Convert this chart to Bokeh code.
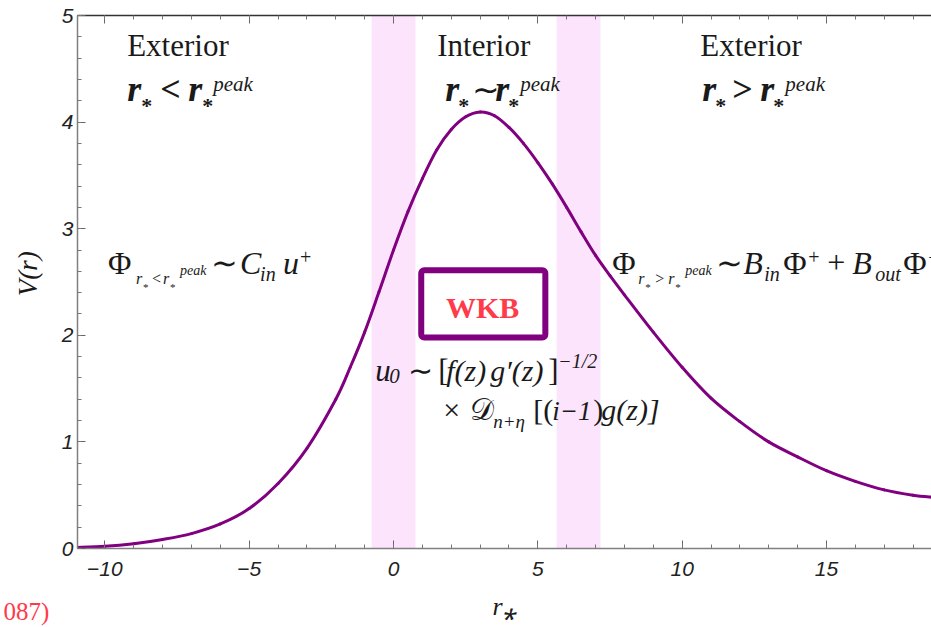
import math
from bokeh.plotting import figure
from bokeh.layouts import row
from bokeh.models import Range1d, LinearAxis, FixedTicker, Label, BoxAnnotation
from bokeh.embed import file_html
from bokeh.resources import INLINE

# Potential barrier V(r) against the tortoise coordinate r*
r_star = [-11, -10, -9, -8, -7, -6, -5, -4, -3, -2, -1.5, -1, -0.5, 0, 0.5, 1, 1.5,
          2, 2.5, 3, 3.5, 4, 4.5, 5, 5.5, 6, 6.5, 7, 7.5, 8, 9, 10, 11, 12, 13,
          14, 15, 16, 17, 18, 18.7]
potential = [0.01, 0.02, 0.045, 0.085, 0.14, 0.23, 0.375, 0.61, 0.94, 1.40, 1.70,
             2.03, 2.41, 2.80, 3.16, 3.47, 3.74, 3.93, 4.05, 4.095, 4.06, 3.95,
             3.80, 3.62, 3.42, 3.20, 2.97, 2.75, 2.56, 2.38, 2.03, 1.70, 1.41,
             1.19, 1.00, 0.86, 0.73, 0.63, 0.55, 0.50, 0.48]

# matching regions either side of the interior (WKB) zone
band_left = [-0.76, 5.65]
band_right = [0.76, 7.17]

x_major = [-10, -5, 0, 5, 10, 15]
x_labels = {-10: "\u221210", -5: "\u22125", 0: "0", 5: "5", 10: "10", 15: "15"}
y_major = [0, 1, 2, 3, 4, 5]

PURPLE = "#800080"
INK = "#1a1a1a"
RED = "#ff3b4b"
SERIF = "Liberation Serif"
LIFT = 0.32  # raise of the alphabetic baseline, as a fraction of the font size


def bare(fig):
    fig.xgrid.visible = False
    fig.ygrid.visible = False
    fig.outline_line_color = None
    fig.background_fill_color = "white"
    fig.border_fill_color = "white"


# narrow strip on the left: vertical title and a citation fragment below it;
# its frame lines up with the main frame, so y runs 79..612 in pixel steps
side = figure(width=52, height=627, output_backend="svg", toolbar_location=None,
              x_range=Range1d(0, 52), y_range=Range1d(79, 612),
              min_border_left=0, min_border_right=0, min_border_top=15,
              min_border_bottom=79, x_axis_location=None, y_axis_location=None)
bare(side)
cite = LinearAxis(ticker=FixedTicker(ticks=[]), axis_label="087)")
cite.axis_line_color = None
cite.major_tick_line_color = None
cite.minor_tick_line_color = None
cite.major_label_standoff = 0
cite.major_label_text_font_size = "0px"
cite.axis_label_standoff = 49
cite.axis_label_text_font = SERIF
cite.axis_label_text_font_style = "normal"
cite.axis_label_text_font_size = "25px"
cite.axis_label_text_color = RED
side.add_layout(cite, "below")

p = figure(width=879, height=627, output_backend="svg", toolbar_location=None,
           x_range=Range1d(-10.95, 18.64), y_range=Range1d(0, 5),
           min_border_left=25, min_border_right=0, min_border_top=15,
           min_border_bottom=79, x_axis_location=None, y_axis_location=None)
bare(p)

xt = FixedTicker(ticks=x_major, minor_ticks=list(range(-11, 19)))
yt = FixedTicker(ticks=y_major, minor_ticks=[i / 5 for i in range(0, 26)])


def style_axis(ax, line_color, show_labels=True):
    ax.axis_line_color = line_color
    ax.axis_line_width = 1.5
    ax.major_tick_line_color = "#666666"
    ax.minor_tick_line_color = "#777777"
    ax.major_tick_in = 8
    ax.major_tick_out = 0
    ax.minor_tick_in = 4
    ax.minor_tick_out = 0
    ax.major_label_text_font = "Liberation Sans"
    ax.major_label_text_font_style = "italic"
    ax.major_label_text_font_size = "21px"
    ax.major_label_text_color = "#222222" if show_labels else None


xb = LinearAxis(ticker=xt, major_label_overrides=x_labels, axis_label="r\u204e")
style_axis(xb, "#808080")
xb.major_label_standoff = 13
xb.axis_label_standoff = 13
xb.axis_label_text_font = SERIF
xb.axis_label_text_font_style = "italic"
xb.axis_label_text_font_size = "26px"
xb.axis_label_text_color = INK
p.add_layout(xb, "below")

xtop = LinearAxis(ticker=xt, major_label_overrides={t: "" for t in x_major})
style_axis(xtop, "#333333", show_labels=False)
xtop.major_label_standoff = 0
p.add_layout(xtop, "above")

yl = LinearAxis(ticker=yt)
style_axis(yl, "#808080")
yl.major_label_standoff = 4
p.add_layout(yl, "left")

# shaded matching bands
p.quad(left=band_left, right=band_right, bottom=0, top=5,
       fill_color="#fce4fc", line_color=None, level="underlay")

# the barrier: a smooth Catmull-Rom path through the sampled values,
# drawn as cubic Bezier pieces
n = len(r_star)
x0, y0, x1, y1, cx0, cy0, cx1, cy1 = ([] for _ in range(8))
for i in range(n - 1):
    a = max(i - 1, 0)
    b = min(i + 2, n - 1)
    x0.append(r_star[i]); y0.append(potential[i])
    x1.append(r_star[i + 1]); y1.append(potential[i + 1])
    cx0.append(r_star[i] + (r_star[i + 1] - r_star[a]) / 6)
    cy0.append(potential[i] + (potential[i + 1] - potential[a]) / 6)
    cx1.append(r_star[i + 1] - (r_star[b] - r_star[i]) / 6)
    cy1.append(potential[i + 1] - (potential[b] - potential[i]) / 6)
p.bezier(x0=x0, y0=y0, x1=x1, y1=y1, cx0=cx0, cy0=cy0, cx1=cx1, cy1=cy1,
         line_color=PURPLE, line_width=3, line_cap="round")

# WKB frame
p.add_layout(BoxAnnotation(left=0.96, right=5.26, bottom=1.98, top=2.61,
                           fill_alpha=0, line_color=PURPLE, line_alpha=1,
                           line_width=6, border_radius=3, level="overlay"))


def put(x, y, text, size, style="normal", dx=0, dy=0, color=INK, align="left",
        font=SERIF, fig=None, angle=0.0):
    (fig or p).add_layout(Label(x=x, y=y, x_offset=dx, y_offset=dy + LIFT * size,
                                text=text, angle=angle,
                                text_font=font, text_font_size=f"{size}px",
                                text_font_style=style, text_color=color,
                                text_align=align, text_baseline="alphabetic"))


def formula(x, y, pieces):
    for dx, dy, text, size, style in pieces:
        put(x, y, text, size, style, dx=dx, dy=dy)


# region headings
put(-9.23, 4.627, "Exterior", 31)
put(1.515, 4.627, "Interior", 31)
put(10.63, 4.627, "Exterior", 31)

BI = "bold italic"
formula(-9.23, 4.205, [
    (0, 0, "r", 36, BI), (14, -12, "*", 22, "bold"), (33, 0, "<", 36, "bold"),
    (61, 0, "r", 36, BI), (75, -12, "*", 22, "bold"), (86, 10, "peak", 21, "italic"),
])
formula(1.79, 4.205, [
    (0, 0, "r", 36, BI), (13, -12, "*", 22, "bold"), (27, 0, "\u223c", 33, "normal"),
    (50, 0, "r", 36, BI), (63, -12, "*", 22, "bold"), (75, 10, "peak", 21, "italic"),
])
formula(10.70, 4.205, [
    (0, 0, "r", 36, BI), (13, -12, "*", 22, "bold"), (30, 0, ">", 36, "bold"),
    (58, 0, "r", 36, BI), (71, -12, "*", 22, "bold"), (83, 10, "peak", 21, "italic"),
])

# asymptotic solutions on either side of the peak
formula(-9.89, 2.583, [
    (0, 0, "\u03a6", 32, "normal"),
    (28, -10, "r", 16, "italic"), (35, -17, "*", 11, "normal"),
    (44, -10, "<", 16, "normal"),
    (55, -10, "r", 16, "italic"), (62, -17, "*", 11, "normal"),
    (72, -2, "peak", 14, "italic"),
    (103, 0, "\u223c", 32, "normal"),
    (132, 0, "C", 32, "italic"), (152, -7, "in", 20, "italic"),
    (175, 0, "u", 32, "italic"), (192, 9.5, "+", 20, "normal"),
])
formula(7.58, 2.583, [
    (0, 0, "\u03a6", 32, "normal"),
    (26, -10, "r", 16, "italic"), (33, -17, "*", 11, "normal"),
    (43, -10, ">", 16, "normal"),
    (56, -10, "r", 16, "italic"), (63, -17, "*", 11, "normal"),
    (73, -2, "peak", 14, "italic"),
    (104, 0, "\u223c", 32, "normal"),
    (131, 0, "B", 32, "italic"), (152, -7, "in", 20, "italic"),
    (171, 0, "\u03a6", 32, "normal"), (196, 9.5, "+", 20, "normal"),
    (215, 0, "+", 32, "normal"),
    (240, 0, "B", 32, "italic"), (263, -7, "out", 20, "italic"),
    (291, 0, "\u03a6", 32, "normal"), (316, 9.5, "\u2212", 20, "normal"),
])

# WKB interior solution
put(3.09, 2.17, "WKB", 30, "bold", color=RED, align="center")
formula(-0.634, 1.579, [
    (0, 0, "u", 31, "italic"), (14, -3, "0", 21, "italic"),
    (33, 0, "\u223c", 30, "normal"),
    (63, 0, "[", 31, "normal"), (71, 0, "f(z)", 30, "italic"),
    (115, 0, "g\u2032(z)", 30, "italic"), (173, 0, "]", 31, "normal"),
    (183, 13, "\u22121/2", 20, "italic"),
])
formula(1.723, 1.213, [
    (0, 0, "\u00d7", 30, "normal"), (27, 0, "\U0001D49F", 30, "normal"),
    (50, -8, "n+\u03b7", 19, "italic"),
    (90, 0, "[(", 30, "normal"), (109, 0, "i\u22121", 27, "italic"),
    (150, 0, ")", 30, "normal"), (158, 0, "g(z)]", 30, "italic"),
])

# vertical axis title in the strip
put(27, 345, "V(r)", 27, "italic", fig=side, align="center", angle=math.pi / 2,
    dx=-LIFT * 27 + 9)

open("out.html", "w").write(file_html(row(side, p), INLINE))
